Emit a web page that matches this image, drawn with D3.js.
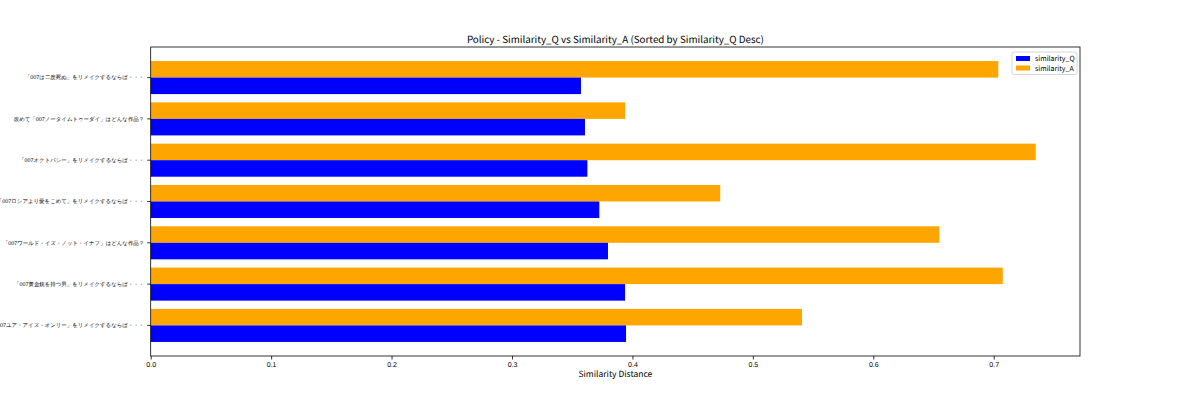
<!DOCTYPE html>
<html>
<head>
<meta charset="utf-8">
<script src="https://cdn.jsdelivr.net/npm/d3@7"></script>
<style>
  body { margin: 0; background: #fff; }
  svg { font-family: "Noto Sans CJK JP", "Noto Sans", sans-serif; text-rendering: geometricPrecision; }
</style>
</head>
<body>
<svg id="chart" width="1200" height="400"></svg>
<script>
// data (sorted by similarity_Q)
const categories = [
  "「007は二度死ぬ」をリメイクするならば・・・",
  "改めて「007ノータイムトゥーダイ」はどんな作品？",
  "「007オクトパシー」をリメイクするならば・・・",
  "「007ロシアより愛をこめて」をリメイクするならば・・・",
  "「007ワールド・イズ・ノット・イナフ」はどんな作品？",
  "「007黄金銃を持つ男」をリメイクするならば・・・",
  "「007ユア・アイズ・オンリー」をリメイクするならば・・・"
];
const similarityQ = [0.3573, 0.3606, 0.3626, 0.3725, 0.3797, 0.3939, 0.3947];
const similarityA = [0.7038, 0.3939, 0.7349, 0.4729, 0.6548, 0.7075, 0.5408];
const xTicks = [0.0, 0.1, 0.2, 0.3, 0.4, 0.5, 0.6, 0.7];
const seriesNames = ["similarity_Q", "similarity_A"];
const colors = { similarity_Q: "#0000ff", similarity_A: "#ffa500" };

const svg = d3.select("#chart");
const margin = { top: 47, right: 120, bottom: 44, left: 150.7 };
const width = +svg.attr("width") - margin.left - margin.right;
const height = +svg.attr("height") - margin.top - margin.bottom;

const xMax = d3.max(similarityA.concat(similarityQ)) * 1.05;
const x = d3.scaleLinear().domain([0, xMax]).range([0, width]);
const y = d3.scaleBand().domain(categories).range([0, height])
  .paddingInner(0.2).paddingOuter(0.34);
// A on the upper half, Q on the lower half of each band
const sub = d3.scaleBand().domain(["similarity_A", "similarity_Q"]).range([0, y.bandwidth()]);

const g = svg.append("g")
  .attr("transform", `translate(${margin.left},${margin.top})`);

const rows = categories.map(function (c, i) {
  return { cat: c, similarity_Q: similarityQ[i], similarity_A: similarityA[i] };
});

["similarity_A", "similarity_Q"].forEach(function (key) {
  g.selectAll(".bar-" + key)
    .data(rows)
    .enter().append("rect")
    .attr("class", "bar-" + key)
    .attr("x", x(0))
    .attr("y", function (d) { return y(d.cat) + sub(key); })
    .attr("width", function (d) { return x(d[key]) - x(0); })
    .attr("height", sub.bandwidth())
    .attr("fill", colors[key]);
});

// axes
const xAxis = g.append("g")
  .attr("transform", `translate(0,${height})`)
  .call(d3.axisBottom(x).tickValues(xTicks).tickFormat(d3.format(".1f")).tickSize(3.5).tickPadding(2.5));
const yAxis = g.append("g")
  .call(d3.axisLeft(y).tickSize(3.5).tickPadding(3));

xAxis.selectAll("text").attr("font-size", 7).attr("fill", "#000");
yAxis.selectAll("text").attr("font-size", 5.45).attr("fill", "#000");
g.selectAll(".domain").remove();
g.selectAll(".tick line").attr("stroke", "#000").attr("stroke-width", 0.8);

// frame
g.append("rect")
  .attr("x", 0).attr("y", 0)
  .attr("width", width).attr("height", height)
  .attr("fill", "none")
  .attr("stroke", "#000")
  .attr("stroke-width", 0.8);

// title + label
svg.append("text")
  .attr("x", margin.left + width / 2)
  .attr("y", 43)
  .attr("text-anchor", "middle")
  .attr("font-size", 9.8)
  .text("Policy - Similarity_Q vs Similarity_A (Sorted by Similarity_Q Desc)");

svg.append("text")
  .attr("x", margin.left + width / 2)
  .attr("y", 377)
  .attr("text-anchor", "middle")
  .attr("font-size", 8.5)
  .text("Similarity Distance");

// legend
const legend = g.append("g")
  .attr("transform", `translate(${width - 68},5)`);
legend.append("rect")
  .attr("width", 65).attr("height", 22.5)
  .attr("rx", 2)
  .attr("fill", "#fff").attr("fill-opacity", 0.8)
  .attr("stroke", "#ccc").attr("stroke-width", 0.8);
seriesNames.forEach(function (name, i) {
  const row = legend.append("g").attr("transform", `translate(4,${4 + i * 9.5})`);
  row.append("rect")
    .attr("width", 14).attr("height", 5)
    .attr("fill", colors[name]);
  row.append("text")
    .attr("x", 19).attr("y", 5)
    .attr("font-size", 7)
    .text(name);
});
</script>
</body>
</html>
